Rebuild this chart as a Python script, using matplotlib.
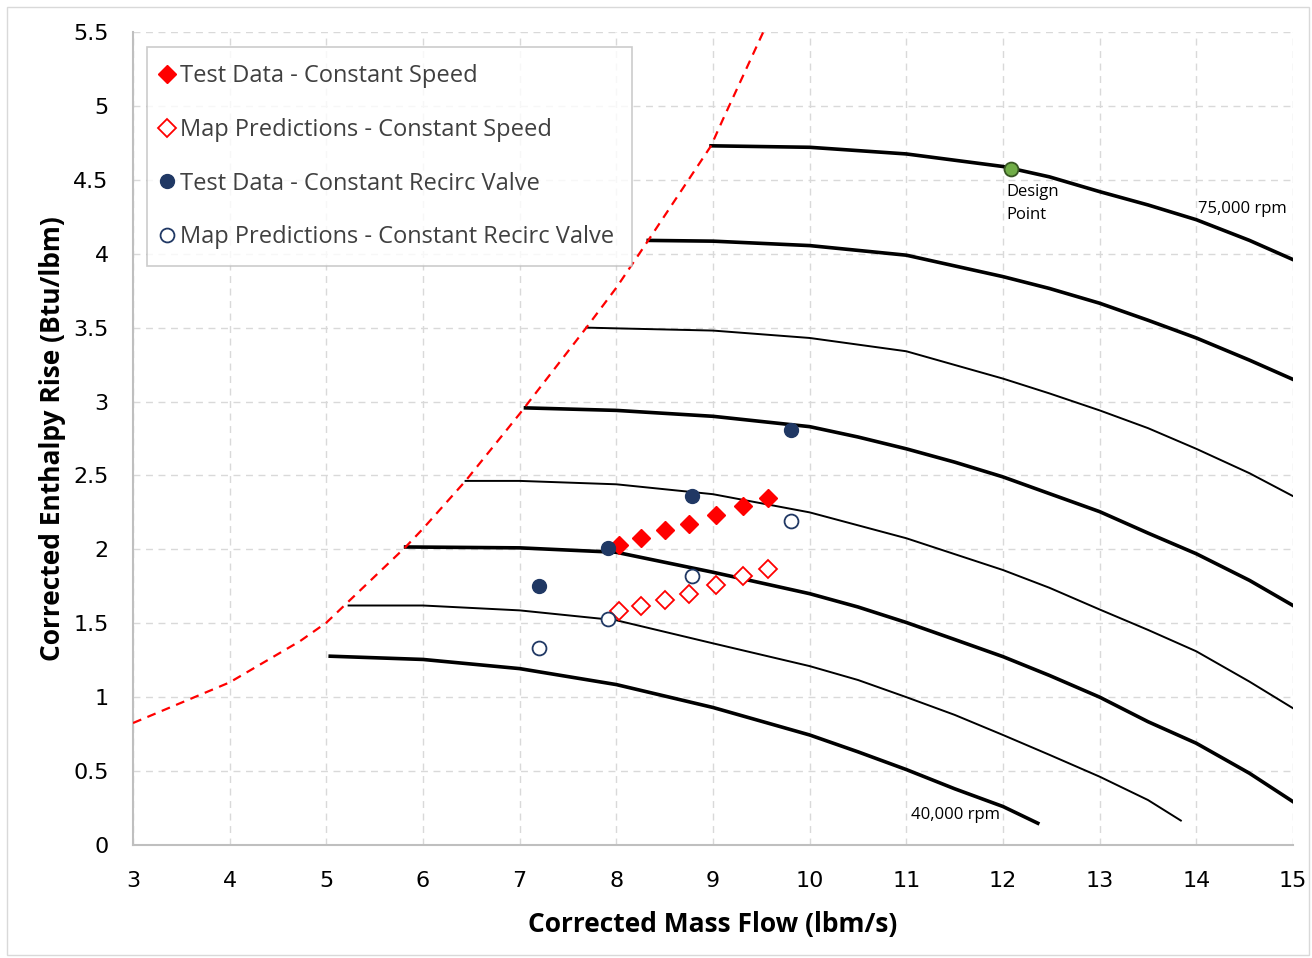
import matplotlib
matplotlib.use("Agg")
import matplotlib.pyplot as plt
from matplotlib.patches import Rectangle

# speed lines, 40k ... 75k rpm
flow_40k = [5.04, 6.0, 7.0, 8.0, 9.0, 10.0, 10.5, 11.0, 11.5, 12.0, 12.36]
enth_40k = [1.277, 1.255, 1.193, 1.085, 0.93, 0.744, 0.63, 0.51, 0.38, 0.26, 0.147]
flow_45k = [5.23, 6.0, 7.0, 8.0, 9.0, 10.0, 10.5, 11.0, 11.5, 12.0, 12.48, 13.0, 13.5, 13.84]
enth_45k = [1.62, 1.62, 1.587, 1.52, 1.364, 1.21, 1.116, 1.0, 0.88, 0.744, 0.61, 0.462, 0.304, 0.165]
flow_50k = [5.82, 7.0, 8.0, 9.0, 10.0, 10.5, 11.0, 11.5, 12.0, 12.48, 13.0, 13.5, 14.0, 14.55, 15.0]
enth_50k = [2.016, 2.01, 1.98, 1.845, 1.70, 1.61, 1.505, 1.39, 1.274, 1.147, 1.0, 0.834, 0.688, 0.485, 0.293]
flow_55k = [6.44, 7.0, 8.0, 9.0, 10.0, 11.0, 12.0, 12.48, 13.0, 13.5, 14.0, 14.55, 15.0]
enth_55k = [2.463, 2.463, 2.44, 2.373, 2.25, 2.075, 1.86, 1.74, 1.593, 1.455, 1.31, 1.105, 0.925]
flow_60k = [7.06, 8.0, 9.0, 10.0, 10.5, 11.0, 11.5, 12.0, 12.48, 13.0, 13.5, 14.0, 14.55, 15.0]
enth_60k = [2.957, 2.94, 2.90, 2.83, 2.76, 2.68, 2.59, 2.49, 2.377, 2.255, 2.11, 1.97, 1.79, 1.62]
flow_65k = [7.69, 8.0, 9.0, 10.0, 11.0, 12.0, 12.48, 13.0, 13.5, 14.0, 14.55, 15.0]
enth_65k = [3.50, 3.495, 3.48, 3.43, 3.34, 3.155, 3.055, 2.94, 2.82, 2.68, 2.515, 2.36]
flow_70k = [8.33, 9.0, 10.0, 11.0, 12.0, 12.48, 13.0, 13.5, 14.0, 14.55, 15.0]
enth_70k = [4.09, 4.085, 4.055, 3.99, 3.845, 3.765, 3.665, 3.55, 3.43, 3.28, 3.15]
flow_75k = [8.98, 10.0, 11.0, 12.0, 12.48, 13.0, 13.5, 14.0, 14.55, 15.0]
enth_75k = [4.73, 4.72, 4.675, 4.59, 4.52, 4.42, 4.33, 4.23, 4.09, 3.96]

# surge line
surge_flow = [3.0, 4.0, 4.73, 5.0, 5.82, 6.0, 6.44, 7.0, 7.69, 8.0, 8.33, 8.98, 9.1, 9.52]
surge_enth = [0.825, 1.10, 1.38, 1.504, 2.016, 2.14, 2.463, 2.917, 3.50, 3.77, 4.09, 4.73, 4.905, 5.5]

# test points
speed_flow = [8.03, 8.26, 8.50, 8.75, 9.03, 9.31, 9.57]
speed_test = [2.03, 2.08, 2.13, 2.17, 2.23, 2.29, 2.35]
speed_pred = [1.58, 1.62, 1.66, 1.70, 1.76, 1.82, 1.87]
valve_flow = [7.20, 7.91, 8.78, 9.81]
valve_test = [1.75, 2.01, 2.36, 2.81]
valve_pred = [1.33, 1.53, 1.82, 2.19]

design_flow = 12.08
design_enth = 4.57

navy = '#203864'
red = '#ff0000'

fig = plt.figure(figsize=(13.12, 9.58), dpi=100)
ax = fig.add_axes([0.1014, 0.118, 0.8841, 0.8486])

speed_lines = [(flow_40k, enth_40k, 2.6), (flow_45k, enth_45k, 1.4),
               (flow_50k, enth_50k, 2.6), (flow_55k, enth_55k, 1.4),
               (flow_60k, enth_60k, 2.6), (flow_65k, enth_65k, 1.4),
               (flow_70k, enth_70k, 2.6), (flow_75k, enth_75k, 2.6)]
for fx, ey, lw in speed_lines:
    ax.plot(fx, ey, color='black', lw=lw, zorder=3, solid_joinstyle='round')

ax.plot(surge_flow, surge_enth, color=red, lw=1.6, ls=(0, (4, 3)), zorder=3)

ax.plot(speed_flow, speed_test, 'D', color=red, ms=9, ls='none', zorder=5,
        label='Test Data - Constant Speed')
ax.plot(speed_flow, speed_pred, 'D', mfc='white', mec=red, mew=1.3, ms=9, ls='none',
        zorder=5, label='Map Predictions - Constant Speed')
ax.plot(valve_flow, valve_test, 'o', color=navy, ms=10, ls='none', zorder=5,
        label='Test Data - Constant Recirc Valve')
ax.plot(valve_flow, valve_pred, 'o', mfc='white', mec=navy, mew=1.3, ms=10, ls='none',
        zorder=5, label='Map Predictions - Constant Recirc Valve')

ax.plot([design_flow], [design_enth], 'o', mfc='#70ad47', mec='#375623', mew=1.3,
        ms=10, zorder=6)
ax.text(design_flow - 0.05, design_enth - 0.10, 'Design\nPoint', fontsize=12,
        va='top', ha='left', family='Open Sans', linespacing=1.6)
ax.text(14.48, 4.30, '75,000 rpm', fontsize=12, ha='center', va='center', family='Open Sans')
ax.text(11.51, 0.20, '40,000 rpm', fontsize=12, ha='center', va='center', family='Open Sans')

ax.set_xlim(3, 15)
ax.set_ylim(0, 5.5)
ax.set_xticks(range(3, 16))
ax.set_yticks([0, 0.5, 1, 1.5, 2, 2.5, 3, 3.5, 4, 4.5, 5, 5.5])
ax.set_yticklabels(['0', '0.5', '1', '1.5', '2', '2.5', '3', '3.5', '4', '4.5', '5', '5.5'])
ax.tick_params(labelsize=16, length=0)
ax.tick_params(axis='x', pad=19)
ax.tick_params(axis='y', pad=17.5)
ax.grid(True, color='#d9d9d9', ls=(0, (5, 4)), lw=1)
ax.set_axisbelow(True)
for s in ['top', 'right']:
    ax.spines[s].set_visible(False)
for s in ['left', 'bottom']:
    ax.spines[s].set_color('#bfbfbf')
    ax.spines[s].set_linewidth(1.5)

ax.set_xlabel('Corrected Mass Flow (lbm/s)', fontsize=19, fontweight='bold',
              family='Open Sans', labelpad=14)
ax.set_ylabel('Corrected Enthalpy Rise (Btu/lbm)', fontsize=19, fontweight='bold',
              family='Open Sans', labelpad=5)

leg = ax.legend(loc='upper left', bbox_to_anchor=(0.012, 0.9815),
                prop={'family': 'Open Sans', 'size': 17}, frameon=True, fancybox=False,
                edgecolor='#bfbfbf', labelspacing=1.26, handletextpad=0.45,
                handlelength=0.25, borderpad=0.72, borderaxespad=0)
leg.get_frame().set_linewidth(1.2)
for t in leg.get_texts():
    t.set_color('#404040')

fig.patches.append(Rectangle((0.005, 0.003), 0.993, 0.99, transform=fig.transFigure,
                             fill=False, edgecolor='#d9d9d9', lw=1))

fig.savefig('out.png', dpi=100)
